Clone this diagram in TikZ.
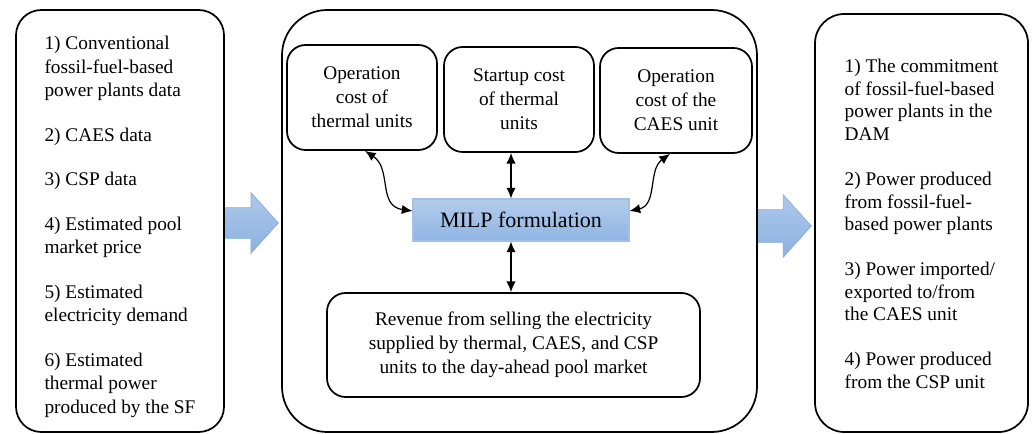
\documentclass[tikz,border=0pt]{standalone}
\usepackage{fontspec}
\setmainfont{Liberation Serif}
\usepackage{xcolor}
\usepackage{tikz}
\usetikzlibrary{calc,arrows.meta,shapes.arrows}
\definecolor{frame}{HTML}{000000}
\definecolor{milptop}{HTML}{B4CDEB}
\definecolor{milpbot}{HTML}{8FB4E3}
\definecolor{milpline}{HTML}{A3C0E6}
\definecolor{arrtop}{HTML}{ADC8EA}
\definecolor{arrbot}{HTML}{8CB1E0}
\definecolor{arrline}{HTML}{86ADDD}
\tikzset{
  box/.style={draw=frame, line width=1.3pt, rounded corners=14pt, align=center, inner sep=0pt, font=\fontsize{14.5}{18}\selectfont},
  listbox/.style={box, align=left, font=\fontsize{14.5}{17.6}\selectfont},
  outer/.style={draw=frame, line width=1.3pt, rounded corners=34pt},
  milpbox/.style={draw=milpline, line width=0.8pt, top color=milptop, bottom color=milpbot, font=\fontsize{16.5}{20}\selectfont, minimum width=162pt, minimum height=31.5pt},
  bigarrow/.style={single arrow, anchor=tail, draw=arrline, line width=0.5pt, top color=arrtop, bottom color=arrbot, minimum height=40.5pt, single arrow head extend=11.25pt, single arrow tip angle=96, inner xsep=0pt, inner ysep=11.25pt},
  link/.style={{Latex[length=8pt,width=7pt]}-{Latex[length=8pt,width=7pt]}, line width=0.9pt},
}

\begin{document}
\begin{tikzpicture}[x=0.75pt,y=-0.75pt]
  \useasboundingbox (0,0) rectangle (1034,434);
  % block arrows
  \node[bigarrow] (arrin) at (224,223) {};
  \node[bigarrow, minimum height=41.25pt, inner ysep=12pt] (arrout) at (756,226) {};
  % input data
  \node[listbox, rounded corners=19pt, minimum width=156pt, minimum height=316.5pt] (inp) at (120,221) {};
  \node[listbox, draw=none] (inptext) at (120,227)
    {1) Conventional\\ fossil-fuel-based\\ power plants data\\[15.8pt]
     2) CAES data\\[15.8pt]
     3) CSP data\\[15.8pt]
     4) Estimated pool\\ market price\\[15.8pt]
     5) Estimated\\ electricity demand\\[15.8pt]
     6) Estimated\\ thermal power\\ produced by the SF};
  % model
  \node[outer, minimum width=356.25pt, minimum height=316.5pt] (model) at (519.5,221) {};
  \node[box, minimum width=112.5pt, minimum height=78.75pt] (opth) at (362,97.5) {Operation\\ cost of\\ thermal units};
  \node[box, minimum width=112.5pt, minimum height=78.75pt] (start) at (519,99.5) {Startup cost\\ of thermal\\ units};
  \node[box, minimum width=114pt, minimum height=78.75pt] (opca) at (676,100.5) {Operation\\ cost of the\\ CAES unit};
  \node[milpbox] (milp) at (521,220) {MILP formulation};
  \node[box, minimum width=279.75pt, minimum height=78pt] (rev) at (513.5,345)
    {Revenue from selling the electricity\\ supplied by thermal, CAES, and CSP\\ units to the day-ahead pool market};
  % results
  \node[listbox, rounded corners=22pt, minimum width=159.75pt, minimum height=313.5pt] (out) at (921.5,223) {};
  \node[listbox, draw=none, font=\fontsize{14.5}{16.9}\selectfont] (outtext) at (921.5,224)
    {1) The commitment\\ of fossil-fuel-based\\ power plants in the\\ DAM\\[16.9pt]
     2) Power produced\\ from fossil-fuel-\\ based power plants\\[16.9pt]
     3) Power imported/\\ exported to/from\\ the CAES unit\\[16.9pt]
     4) Power produced\\ from the CSP unit};
  % links
  \coordinate (axis) at (511,0);
  \draw[link] (start.south -| axis) -- (milp.north -| axis);
  \draw[link] (milp.south -| axis) -- (rev.north -| axis);
  \draw[link] ($(opth.south)+(3,0)$) .. controls +(27,18) and +(-35,-5) .. ($(milp.west)+(0,-9)$);
  \draw[link] ($(opca.south)+(-6,0)$) .. controls +(-22,16) and +(28,-6) .. ($(milp.east)+(0,-9)$);
\end{tikzpicture}
\end{document}
